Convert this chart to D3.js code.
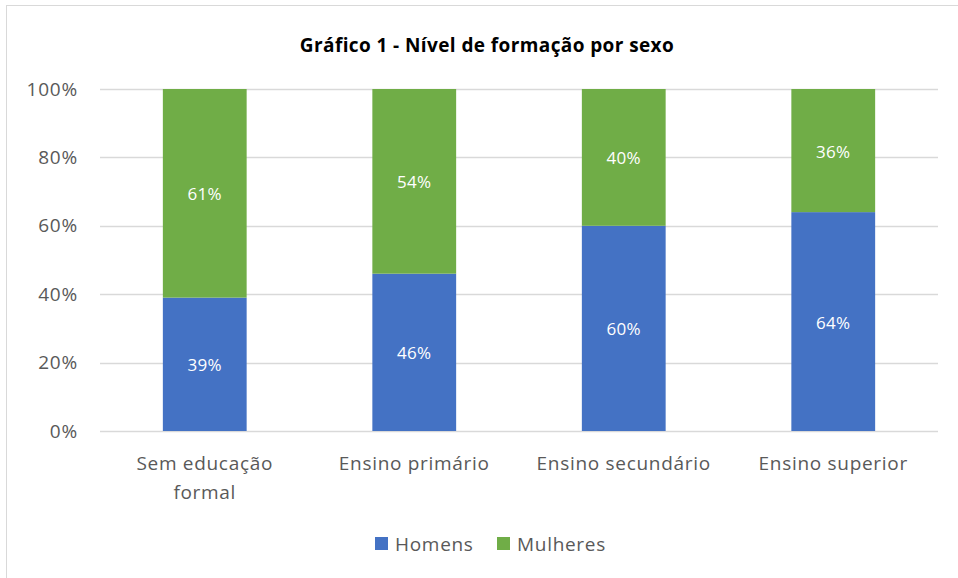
<!DOCTYPE html>
<html>
<head>
<meta charset="utf-8">
<script src="https://cdn.jsdelivr.net/npm/d3@7.9.0/dist/d3.min.js"></script>
<style>
  body { margin: 0; background: #fff; }
  svg { font-family: "Open Sans", Carlito, Calibri, sans-serif; }
</style>
</head>
<body>
<svg id="chart" width="958" height="578"></svg>
<script>
const categories = [['Sem educação', 'formal'], ['Ensino primário'], ['Ensino secundário'], ['Ensino superior']];
const homens = [39, 46, 60, 64];
const mulheres = [61, 54, 40, 36];
const seriesNames = ['Homens', 'Mulheres'];
const yTicks = [0, 20, 40, 60, 80, 100];

const colors = ['#4472C4', '#70AD47'];
const svg = d3.select('#chart');

// chart frame
svg.append('rect')
  .attr('x', 6.5).attr('y', 5.5)
  .attr('width', 960).attr('height', 580)
  .attr('fill', '#fff').attr('stroke', '#d9d9d9');

const margin = { left: 100, right: 20, top: 89, bottom: 147 };
const width = 958 - margin.left - margin.right;
const height = 578 - margin.top - margin.bottom;

const x = d3.scaleBand()
  .domain(d3.range(categories.length))
  .range([margin.left, margin.left + width])
  .paddingInner(0.6)
  .paddingOuter(0.3);

const y = d3.scaleLinear().domain([0, 100]).range([margin.top + height, margin.top]);

svg.append('text')
  .attr('x', 487).attr('y', 52)
  .attr('text-anchor', 'middle')
  .attr('font-weight', 'bold')
  .attr('font-size', 19)
  .attr('letter-spacing', 0.4)
  .attr('fill', '#000')
  .text('Gráfico 1 - Nível de formação por sexo');

// gridlines
svg.append('g')
  .selectAll('line')
  .data(yTicks)
  .join('line')
  .attr('x1', margin.left).attr('x2', margin.left + width)
  .attr('y1', d => Math.round(y(d)) + 0.5).attr('y2', d => Math.round(y(d)) + 0.5)
  .attr('stroke', '#d9d9d9').attr('stroke-width', 1.5);

// y axis labels
const yAxis = svg.append('g')
  .attr('transform', `translate(${margin.left - 22},0)`)
  .call(d3.axisLeft(y).tickValues(yTicks).tickFormat(d => d + '%').tickSize(0).tickPadding(0));
yAxis.select('.domain').remove();
yAxis.selectAll('text')
  .attr('font-size', 19)
  .attr('letter-spacing', 0.8)
  .attr('fill', '#595959')
  .attr('font-family', '"Open Sans", Carlito, Calibri, sans-serif');

// stacked bars
const rows = homens.map((h, i) => ({ i, Homens: h, Mulheres: mulheres[i] }));
const stack = d3.stack().keys(seriesNames)(rows);

svg.append('g')
  .selectAll('g')
  .data(stack)
  .join('g')
  .attr('fill', (d, k) => colors[k])
  .selectAll('rect')
  .data(d => d)
  .join('rect')
  .attr('x', d => x(d.data.i))
  .attr('y', d => y(d[1]))
  .attr('width', x.bandwidth())
  .attr('height', d => y(d[0]) - y(d[1]));

// data labels
svg.append('g')
  .selectAll('g')
  .data(stack)
  .join('g')
  .selectAll('text')
  .data(d => d)
  .join('text')
  .attr('x', d => x(d.data.i) + x.bandwidth() / 2)
  .attr('y', d => (y(d[0]) + y(d[1])) / 2 + 7)
  .attr('text-anchor', 'middle')
  .attr('font-size', 17)
  .attr('letter-spacing', 0.3)
  .attr('fill', '#fff')
  .text(d => (d[1] - d[0]) + '%');

// category labels
const xLabels = svg.append('g')
  .selectAll('text')
  .data(categories)
  .join('text')
  .attr('x', (d, i) => x(i) + x.bandwidth() / 2)
  .attr('y', 470)
  .attr('text-anchor', 'middle')
  .attr('font-size', 19)
  .attr('letter-spacing', 0.7)
  .attr('fill', '#595959');
xLabels.selectAll('tspan')
  .data(d => d)
  .join('tspan')
  .attr('x', function () { return this.parentNode.getAttribute('x'); })
  .attr('dy', (d, j) => j === 0 ? 0 : 29)
  .text(d => d);

// legend
const legendX = [375, 497];
const legend = svg.append('g')
  .selectAll('g')
  .data(seriesNames)
  .join('g')
  .attr('transform', (d, i) => `translate(${legendX[i]},537)`);
legend.append('rect')
  .attr('width', 13).attr('height', 13)
  .attr('fill', (d, i) => colors[i]);
legend.append('text')
  .attr('x', 20).attr('y', 14)
  .attr('font-size', 19)
  .attr('letter-spacing', 0.7)
  .attr('fill', '#595959')
  .text(d => d);
</script>
</body>
</html>
